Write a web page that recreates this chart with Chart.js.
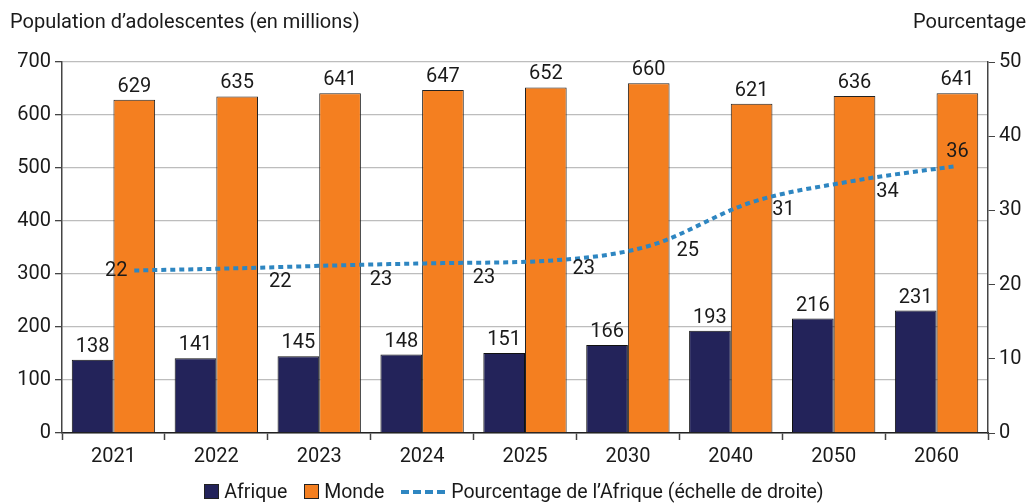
<!DOCTYPE html>
<html>
<head>
<meta charset="utf-8">
<script src="https://cdn.jsdelivr.net/npm/chart.js@4"></script>
<style>
  html, body { margin: 0; padding: 0; background: #fff; }
  #wrap { position: relative; width: 1028px; height: 504px; font-family: Roboto, sans-serif; color: #1a1a1a; }
  #c { position: absolute; left: 0; top: 0; }
  .ttl { position: absolute; top: 9px; font-size: 20px; }
  #legend { position: absolute; top: 479px; left: 0; width: 1028px; text-align: center; font-size: 19.5px; }
  #legend span { display: inline-block; vertical-align: middle; }
  .box { width: 13px; height: 13px; border: 1px solid #222; margin-right: 5px; }
  .dash { width: 44px; height: 0; border-top: 4px dashed #2e86c1; margin: 0 6px 0 12px; }
  .item { margin-right: 12px; }
</style>
</head>
<body>
<div id="wrap">
  <canvas id="c" width="1028" height="504"></canvas>
  <div class="ttl" style="left:10px">Population d’adolescentes (en millions)</div>
  <div class="ttl" style="right:2px">Pourcentage</div>
  <div id="legend">
    <span class="box" style="background:#23235a"></span><span class="item">Afrique</span>
    <span class="box" style="background:#f47f20"></span><span>Monde</span>
    <span class="dash"></span><span>Pourcentage de l’Afrique (échelle de droite)</span>
  </div>
</div>
<script>
const annees = ['2021', '2022', '2023', '2024', '2025', '2030', '2040', '2050', '2060'];
const afrique = [138, 141, 145, 148, 151, 166, 193, 216, 231];
const monde = [629, 635, 641, 647, 652, 660, 621, 636, 641];
const pourcentage = [21.9, 22.2, 22.6, 22.9, 23.2, 25.2, 31.1, 34.0, 36.0];
const ticksGauche = [0, 100, 200, 300, 400, 500, 600, 700];
const ticksDroite = [0, 10, 20, 30, 40, 50];

// decalage des etiquettes de la courbe (comme dans l'original)
const decalLabels = [[-18, 0], [43, 14], [41, 15], [41, 15], [38, 8], [39, 5], [32, 8], [33, 11], [0, -14]];

const police = 'Roboto, sans-serif';

// la courbe est centree sur les barres "Monde"
function decalCourbe(chart) {
  const meta = chart.getDatasetMeta(1);
  return meta.data.length ? meta.data[0].x - chart.getDatasetMeta(2).data[0].x : 0;
}

const etiquettes = {
  id: 'etiquettes',
  beforeDatasetDraw(chart, args) {
    if (args.index === 2) {
      chart.ctx.save();
      chart.ctx.translate(decalCourbe(chart), 0);
    }
  },
  afterDatasetDraw(chart, args) {
    if (args.index === 2) chart.ctx.restore();
  },
  afterDatasetsDraw(chart) {
    const ctx = chart.ctx;
    ctx.save();
    ctx.fillStyle = '#1a1a1a';
    ctx.font = '20px ' + police;
    ctx.textAlign = 'center';
    ctx.textBaseline = 'bottom';
    [0, 1].forEach(d => {
      chart.getDatasetMeta(d).data.forEach((bar, i) => {
        ctx.fillText(chart.data.datasets[d].data[i], bar.x, bar.y - 3);
      });
    });
    ctx.textBaseline = 'middle';
    const dec = decalCourbe(chart);
    chart.getDatasetMeta(2).data.forEach((pt, i) => {
      const [dx, dy] = decalLabels[i];
      ctx.fillText(Math.round(pourcentage[i]), pt.x + dec + dx, pt.y + dy);
    });
    ctx.restore();
  }
};

new Chart(document.getElementById('c'), {
  data: {
    labels: annees,
    datasets: [
      { type: 'bar', label: 'Afrique', data: afrique, backgroundColor: '#23235a', borderColor: '#111', borderWidth: 1, yAxisID: 'y', order: 1 },
      { type: 'bar', label: 'Monde', data: monde, backgroundColor: '#f47f20', borderColor: '#222', borderWidth: 1, yAxisID: 'y', order: 1 },
      { type: 'line', label: 'Pourcentage de l’Afrique (échelle de droite)', data: pourcentage,
        yAxisID: 'y2', borderColor: '#2e86c1', borderWidth: 4, borderDash: [5, 4],
        pointRadius: 0, fill: false, cubicInterpolationMode: 'monotone', order: 0 }
    ]
  },
  options: {
    responsive: false,
    animation: false,
    layout: { padding: { top: 62, left: 0, right: 0, bottom: 0 } },
    plugins: { legend: { display: false }, tooltip: { enabled: false } },
    datasets: { bar: { categoryPercentage: 0.81, barPercentage: 1 } },
    scales: {
      x: {
        type: 'category',
        offset: true,
        grid: { offset: true, drawOnChartArea: false, color: '#444', tickLength: 7, tickWidth: 1.5 },
        border: { color: '#222', width: 1.5 },
        ticks: { color: '#1a1a1a', font: { family: police, size: 20 }, padding: 5 },
        afterFit(s) { s.height = 71; }
      },
      y: {
        position: 'left',
        min: 0, max: 700,
        afterBuildTicks(s) { s.ticks = ticksGauche.map(v => ({ value: v })); },
        grid: { color: '#bdbdbd', lineWidth: 1.3, tickLength: 7, tickColor: '#444' },
        border: { color: '#444', width: 1.5 },
        ticks: { color: '#1a1a1a', font: { family: police, size: 20 }, padding: 4 },
        afterFit(s) { s.width = 62; }
      },
      y2: {
        position: 'right',
        min: 0, max: 50,
        afterBuildTicks(s) { s.ticks = ticksDroite.map(v => ({ value: v })); },
        grid: { drawOnChartArea: false, tickLength: 7, color: '#444' },
        border: { color: '#444', width: 1.5 },
        ticks: { color: '#1a1a1a', font: { family: police, size: 20 }, padding: 4 },
        afterFit(s) { s.width = 40; }
      }
    }
  },
  plugins: [etiquettes]
});
</script>
</body>
</html>
